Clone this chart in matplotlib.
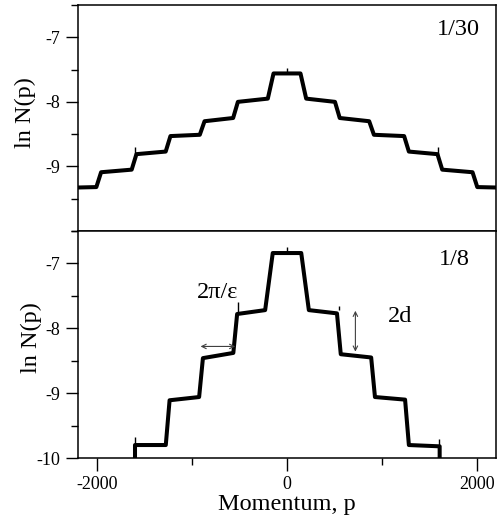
import matplotlib
matplotlib.use("Agg")
import matplotlib.pyplot as plt
from matplotlib.ticker import MultipleLocator, NullFormatter

plt.rcParams['font.family'] = ['Liberation Serif', 'DejaVu Serif']
plt.rcParams['axes.unicode_minus'] = False

# ---------------- data ----------------
# epsilon = 1/30 : step positions and plateau levels (level at start / end of each plateau)
top_edges = [-1982, -1610, -1252, -893, -542, -172, 172, 530, 890, 1258, 1609, 1978]
top_start = [-9.33, -9.09, -8.81, -8.53, -8.30, -8.00, -7.56, -7.95, -8.25, -8.51, -8.77, -9.05, -9.32]
top_end = [-9.32, -9.05, -8.77, -8.51, -8.25, -7.95, -7.56, -8.00, -8.30, -8.53, -8.81, -9.09, -9.33]
top_span = [-2300, 2300]
top_ramp = [50, 50, 50, 50, 50, 60, 60, 50, 50, 50, 50, 50]
top_spike_x = [-1596, 0, 1592]
top_spike_base = [-8.81, -7.56, -8.81]
top_spike_top = [-8.70, -7.47, -8.70]

# epsilon = 1/8
bot_edges = [-1256, -905, -545, -190, 190, 546, 906, 1263]
bot_start = [-9.80, -9.11, -8.46, -7.78, -6.84, -7.72, -8.40, -9.06, -9.80]
bot_end = [-9.80, -9.06, -8.38, -7.72, -6.84, -7.77, -8.45, -9.10, -9.82]
bot_span = [-1600, 1607]
bot_ramp = [40, 40, 40, 80, 80, 40, 40, 40]
bot_spike_x = [-1597, -521, 0, 552, 1596]
bot_spike_base = [-9.80, -7.78, -6.84, -7.72, -9.82]
bot_spike_top = [-9.68, -7.60, -6.74, -7.66, -9.70]

# annotation arrows (data units)
width_arrow_x = [-910, -545]
width_arrow_y = -8.28
height_arrow_x = 720
height_arrow_y = [-7.73, -8.36]

panel_labels = ["1/30", "1/8"]
y_low, y_high = -10.0, -6.5
x_low, x_high = -2200, 2200


def staircase(edges, starts, ends, span, ramps):
    xs = [span[0]]
    ys = [starts[0]]
    for i, e in enumerate(edges):
        h = ramps[i] / 2.0
        xs += [e - h, e + h]
        ys += [ends[i], starts[i + 1]]
    xs.append(span[1])
    ys.append(ends[-1])
    return xs, ys


fig = plt.figure(figsize=(5.01, 5.22), dpi=100)
ax1 = fig.add_axes([0.1557, 0.5575, 0.8343, 0.4329])
ax2 = fig.add_axes([0.1557, 0.1226, 0.8343, 0.4349])

trace_kw = dict(color="black", lw=2.9, solid_joinstyle="round", solid_capstyle="butt")

# top panel trace
xs, ys = staircase(top_edges, top_start, top_end, top_span, top_ramp)
ax1.plot(xs, ys, **trace_kw)
ax1.vlines(top_spike_x, top_spike_base, top_spike_top, color="black", lw=1.0)

# bottom panel trace, dropping to the floor at both ends
xs, ys = staircase(bot_edges, bot_start, bot_end, bot_span, bot_ramp)
xs = [bot_span[0]] + xs + [bot_span[1]]
ys = [y_low] + ys + [y_low]
ax2.plot(xs, ys, **trace_kw)
ax2.vlines(bot_spike_x, bot_spike_base, bot_spike_top, color="black", lw=1.0)

for ax in (ax1, ax2):
    ax.set_xlim(x_low, x_high)
    ax.set_ylim(y_low, y_high)
    ax.xaxis.set_major_locator(MultipleLocator(2000))
    ax.xaxis.set_minor_locator(MultipleLocator(1000))
    ax.yaxis.set_major_locator(MultipleLocator(1))
    ax.yaxis.set_minor_locator(MultipleLocator(0.5))
    ax.tick_params(which="both", direction="out", top=False, right=False,
                   labelsize=13, width=1.0, color="black")
    ax.tick_params(which="major", length=9, pad=4)
    ax.tick_params(which="minor", length=5)
    for sp in ax.spines.values():
        sp.set_linewidth(1.1)
    ax.set_ylabel("ln N(p)", fontsize=17.5)

ax1.xaxis.set_major_formatter(NullFormatter())
ax1.set_yticks([-7, -8, -9])
ax1.yaxis.set_label_coords(-0.1, 0.522)
ax2.yaxis.set_label_coords(-0.086, 0.529)
ax2.set_xlabel("Momentum, p", fontsize=17.5, labelpad=1)

ax1.text(2027, -6.97, panel_labels[0], ha="right", va="baseline", fontsize=17.5)
ax2.text(1922, -7.02, panel_labels[1], ha="right", va="baseline", fontsize=17.5)
ax2.text(-949, -7.54, "2π/ε", ha="left", va="baseline", fontsize=17.5)
ax2.text(1065, -7.91, "2d", ha="left", va="baseline", fontsize=17.5)

arrow_kw = dict(arrowstyle="<->", lw=0.8, color="0.25", mutation_scale=8,
                shrinkA=0, shrinkB=0)
ax2.annotate("", xy=(width_arrow_x[1], width_arrow_y), xytext=(width_arrow_x[0], width_arrow_y),
             arrowprops=arrow_kw)
ax2.annotate("", xy=(height_arrow_x, height_arrow_y[1]), xytext=(height_arrow_x, height_arrow_y[0]),
             arrowprops=arrow_kw)

fig.savefig("out.png", dpi=100)
